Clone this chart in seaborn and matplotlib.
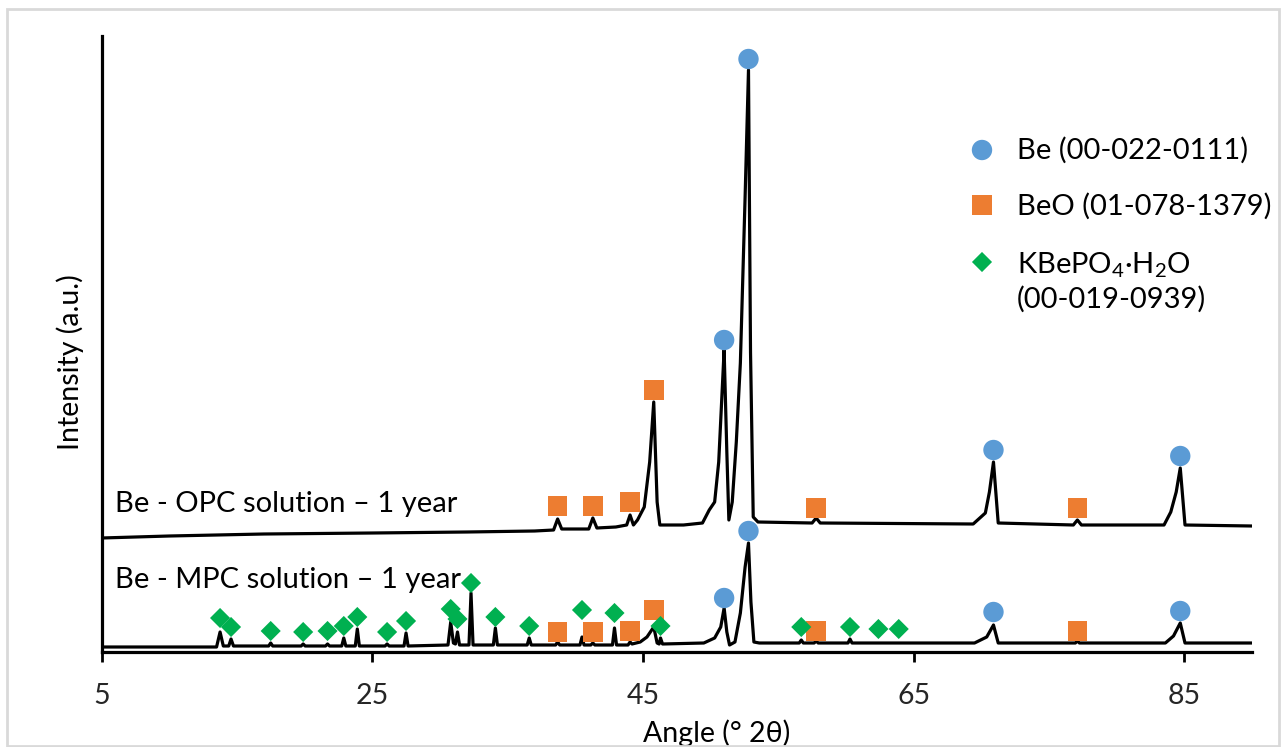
import numpy as np
import pandas as pd
import seaborn as sns
import matplotlib
matplotlib.use("Agg")
import matplotlib.pyplot as plt
from matplotlib.patches import Rectangle

# ---------------- data (angle in deg 2theta, intensity in a.u.) ----------------
opc_angle = [5.0, 10.0, 17.0, 25.0, 32.0, 37.0, 38.4, 38.7, 39.0, 41.0, 41.3, 41.6, 43.0, 43.8,
             44.05, 44.3, 44.6, 45.1, 45.5, 45.8, 46.05, 46.25, 48.0, 49.4, 49.9, 50.3, 50.6,
             50.85, 51.0, 51.2, 51.35, 51.6, 51.9, 52.2, 52.55, 52.8, 52.95, 53.15, 53.5, 57.5,
             57.8, 58.1, 69.4, 70.3, 70.6, 70.9, 71.25, 76.8, 77.1, 77.4, 83.5, 84.0, 84.4, 84.7,
             85.05, 90.0]
opc_int = [114, 116, 118, 119, 120, 121, 122, 133, 123, 123, 134, 124, 125, 127,
           137, 127, 132, 145, 190, 250, 150, 127, 127, 129, 142, 150, 190,
           260, 302, 200, 132, 150, 210, 289, 455, 582, 300, 135, 130, 129,
           134, 129, 128, 139, 160, 190, 129, 127, 132, 127, 127, 140, 160, 184,
           127, 126]

mpc_angle = [5.0, 13.5, 13.76, 14.0, 14.4, 14.57, 14.75, 17.35, 17.5, 17.65, 19.75, 19.9, 20.05,
             21.55, 21.7, 21.85, 22.75, 22.9, 23.05, 23.75, 23.9, 24.05, 25.95, 26.1, 26.25,
             27.35, 27.5, 27.65, 30.6, 30.8, 31.0, 31.15, 31.3, 31.45, 32.15, 32.3, 32.45,
             33.95, 34.1, 34.25, 36.45, 36.6, 36.75, 38.55, 38.7, 38.85, 40.35, 40.5, 40.65,
             41.15, 41.3, 41.45, 42.75, 42.9, 43.05, 43.9, 44.05, 44.2, 44.8, 45.3, 45.8,
             46.05, 46.2, 46.3, 46.45, 49.5, 50.3, 50.75, 51.0, 51.2, 51.4, 51.8, 52.2, 52.55,
             52.8, 52.98, 53.2, 53.6, 56.55, 56.7, 56.85, 57.65, 57.8, 57.95, 60.15, 60.3, 60.45,
             69.5, 70.4, 70.9, 71.25, 76.95, 77.1, 77.25, 83.6, 84.2, 84.7, 85.05, 90.0]
mpc_int = [5, 5, 20, 6, 6, 13, 6, 6, 9, 6, 6, 8, 6,
           6, 8, 6, 6, 14, 6, 6, 23, 6, 6, 8, 6,
           6, 19, 6, 7, 30, 9, 8, 20, 7, 7, 59, 7,
           7, 24, 7, 7, 14, 7, 7, 10, 7, 7, 15, 7,
           7, 9, 7, 7, 24, 7, 7, 10, 8, 10, 15, 25,
           9, 8, 14, 8, 9, 14, 25, 44, 20, 7, 10, 39, 85,
           109, 50, 10, 9, 9, 12, 9, 9, 11, 9, 9, 13, 9,
           9, 15, 27, 9, 9, 11, 9, 9, 16, 29, 9, 9]

# phase markers
be_angle = [52.8, 51.0, 70.9, 84.7, 52.8, 51.0, 70.9, 84.7]
be_int = [593, 312, 202, 196, 121, 54, 40, 41]
beo_angle = [38.7, 41.3, 44.05, 45.8, 57.8, 77.1, 38.7, 41.3, 44.05, 45.8, 57.8, 77.1]
beo_int = [146, 146, 150, 262, 144, 144, 20, 20, 21, 42, 21, 21]
kbp_angle = [13.76, 14.57, 17.5, 19.9, 21.7, 22.9, 23.9, 26.1, 27.5, 30.8, 31.3, 32.3, 34.1,
             36.6, 40.5, 42.9, 46.3, 56.7, 60.3, 62.4, 63.9]
kbp_int = [34, 25, 21, 20, 21, 26, 35, 20, 31, 43, 33, 69, 35,
           26, 42, 39, 26, 25, 25, 23, 23]

x_ticks = [5, 25, 45, 65, 85]
legend_labels = ["Be (00-022-0111)", "BeO (01-078-1379)", "KBePO$_4$·H$_2$O", "(00-019-0939)"]
trace_labels = ["Be - OPC solution – 1 year", "Be - MPC solution – 1 year"]

# ---------------- style ----------------
sns.set_theme(style="white")
plt.rcParams["font.family"] = ["Lato", "DejaVu Sans"]
plt.rcParams["mathtext.fontset"] = "custom"
plt.rcParams["mathtext.rm"] = "Lato"
plt.rcParams["mathtext.it"] = "Lato:italic"

BLUE = "#5B9BD5"
ORANGE = "#ED7D31"
GREEN = "#00B050"

W, H = 1285, 747
fig = plt.figure(figsize=(W / 100, H / 100), dpi=100)
ax = fig.add_axes([101.5 / W, 1 - 652 / H, (1252 - 101.5) / W, (652 - 36) / H])

sns.lineplot(x=opc_angle, y=opc_int, sort=False, estimator=None, color="black",
             linewidth=2.3, ax=ax)
sns.lineplot(x=mpc_angle, y=mpc_int, sort=False, estimator=None, color="black",
             linewidth=2.3, ax=ax)

sns.scatterplot(x=be_angle, y=be_int, marker="o", s=215, color=BLUE, edgecolor="none",
                ax=ax, zorder=4)
sns.scatterplot(x=beo_angle, y=beo_int, marker="s", s=200, color=ORANGE, edgecolor="none",
                ax=ax, zorder=4)
sns.scatterplot(x=kbp_angle, y=kbp_int, marker="D", s=105, color=GREEN, edgecolor="none",
                ax=ax, zorder=4)

ax.set_xlim(5, 90)
ax.set_ylim(0, 616)
ax.set_xticks(x_ticks)
ax.set_xticklabels([str(t) for t in x_ticks])
ax.set_yticks([])
for side in ["top", "right"]:
    ax.spines[side].set_visible(False)
for side in ["left", "bottom"]:
    ax.spines[side].set_color("black")
    ax.spines[side].set_linewidth(2.3)
ax.tick_params(axis="x", direction="out", length=7.5, width=2, color="black",
               labelsize=20.5, pad=15, bottom=True)

ax.set_xlabel("Angle (° 2θ)", fontsize=20.5, color="#000000")
ax.xaxis.set_label_coords((717 - 101.5) / (1252 - 101.5), -0.11)
ax.set_ylabel("Intensity (a.u.)", fontsize=20.5, color="#000000", va="center")
ax.yaxis.set_label_coords(-0.027, 0.47)

ax.text(6.0, 140, trace_labels[0], fontsize=21, va="baseline", ha="left", color="black")
ax.text(6.0, 64, trace_labels[1], fontsize=21, va="baseline", ha="left", color="black")

# ---------------- legend (markers + texts placed in figure pixels) ----------------
def fx(px):
    return px / W


def fy(py):
    return 1 - py / H


leg_markers = [("o", BLUE, 215, 150), ("s", ORANGE, 200, 205), ("D", GREEN, 105, 262)]
for mk, col, sz, py in leg_markers:
    ax.scatter([fx(982)], [fy(py)], marker=mk, s=sz, color=col, edgecolor="none",
               transform=fig.transFigure, clip_on=False, zorder=5)
for lab, py in zip(legend_labels, [159, 215, 273, 308]):
    fig.text(fx(1017), fy(py), lab, fontsize=21, va="baseline", ha="left", color="black")

fig.patches.append(Rectangle((7 / W, 1 / H), (1279 - 7) / W, (738 - 1) / H,
                             transform=fig.transFigure, fill=False,
                             edgecolor="#D9D9D9", linewidth=2))

fig.savefig("out.png", dpi=100, facecolor="white")
